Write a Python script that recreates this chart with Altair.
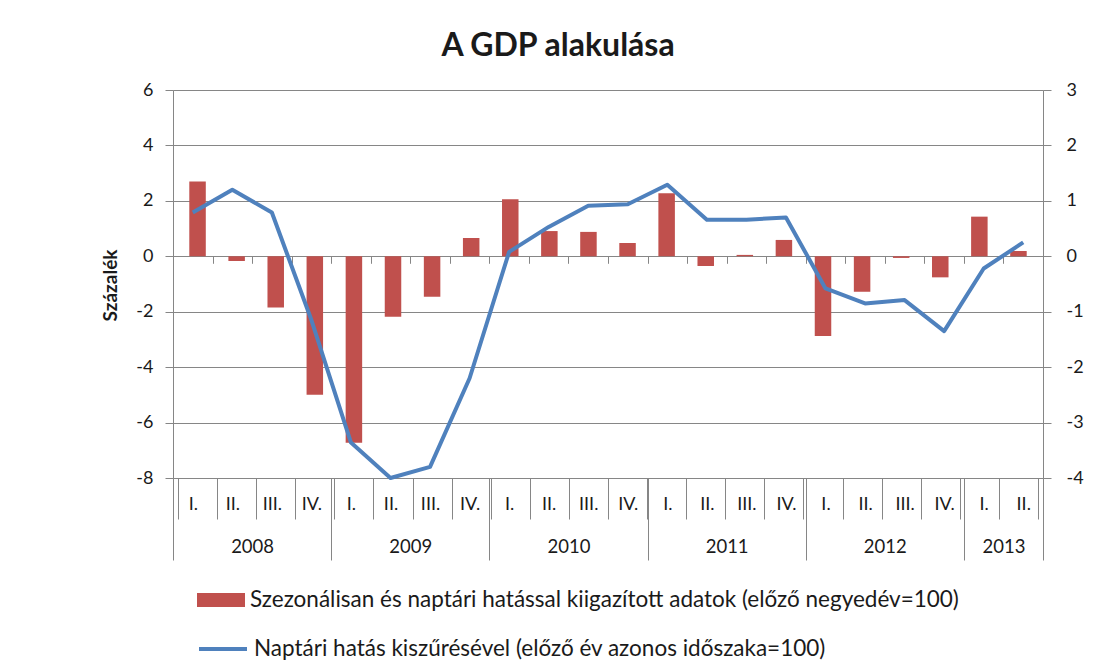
import json
import altair as alt
import pandas as pd

# ---------------- data ----------------
quarters = ["I.", "II.", "III.", "IV.",
            "I.", "II.", "III.", "IV.",
            "I.", "II.", "III.", "IV.",
            "I.", "II.", "III.", "IV.",
            "I.", "II.", "III.", "IV.",
            "I.", "II."]
years = [2008] * 4 + [2009] * 4 + [2010] * 4 + [2011] * 4 + [2012] * 4 + [2013] * 2

# left axis (previous quarter = 100)
bar_values = [2.70, -0.17, -1.85, -5.00, -6.73, -2.18, -1.46, 0.66,
              2.06, 0.91, 0.88, 0.48, 2.27, -0.35, 0.05, 0.59,
              -2.88, -1.28, -0.06, -0.76, 1.43, 0.19]
# right axis (same period of previous year = 100)
line_values = [0.79, 1.20, 0.79, -1.15, -3.36, -4.00, -3.80, -2.20,
               0.08, 0.53, 0.91, 0.94, 1.29, 0.66, 0.66, 0.70,
               -0.58, -0.85, -0.79, -1.35, -0.22, 0.25]

bar_name = "Szezonálisan és naptári hatással kiigazított adatok (előző negyedév=100)"
line_name = "Naptári hatás kiszűrésével (előző év azonos időszaka=100)"
chart_title = "A GDP alakulása"
y_title = "Százalék"

left_ticks = [-8, -6, -4, -2, 0, 2, 4, 6]
right_ticks = [-4, -3, -2, -1, 0, 1, 2, 3]

# ---------------- derived tables ----------------
n = len(quarters)
df = pd.DataFrame({
    "pos": [i + 0.5 for i in range(n)],
    "q": quarters,
    "year": years,
    "bar": bar_values,
    "line": line_values,
    "bs": bar_name,
    "ls": line_name,
})
year_list = sorted(set(years))
year_start = [years.index(y) for y in year_list]
year_bounds = year_start + [n]
year_centers = [years.index(y) + years.count(y) / 2 for y in year_list]
ydf = pd.DataFrame({"c": year_centers, "y": [str(y) for y in year_list]})

q_expr = json.dumps(quarters) + "[floor(datum.value)]"
y_expr = json.dumps({f"{c:g}": str(y) for c, y in zip(year_centers, year_list)}) + "[datum.value]"
num_expr = "toString(datum.value)"

W, H = 870, 388
FONT = "Lato"
GRAY = "#868686"
TXT = "#1a1a1a"
RED = "#C0504D"
BLUE = "#4F81BD"

ymin, ymax = left_ticks[0], left_ticks[-1]
zero_offset = -H * (0 - ymin) / (ymax - ymin)


def xs():
    return alt.Scale(domain=[0, n], nice=False, zero=False)


# bars with quarter separators at the bottom
bars = alt.Chart(df).mark_bar(size=16.5, color=RED).encode(
    x=alt.X("pos:Q", scale=xs(), axis=alt.Axis(
        orient="bottom", values=list(range(n + 1)), labels=False,
        tickSize=41, tickColor=GRAY, tickWidth=1, domainColor=GRAY,
        domainWidth=1, grid=False, title=None)),
    y=alt.Y("bar:Q", scale=alt.Scale(domain=[ymin, ymax], nice=False),
            axis=alt.Axis(orient="left", values=left_ticks, grid=True,
                          gridColor=GRAY, gridWidth=1, tickSize=8,
                          tickColor=GRAY, domainColor=GRAY, labelPadding=12,
                          labelExpr=num_expr,
                          labelFont=FONT, labelFontSize=18, labelColor=TXT,
                          title=y_title, titleFont=FONT, titleFontSize=19,
                          titleFontWeight="bold", titleColor=TXT,
                          titleX=-63, titleY=195, titleAngle=270,
                          titleBaseline="middle", titleAlign="center")),
    fill=alt.Fill("bs:N", scale=alt.Scale(domain=[bar_name], range=[RED]),
                  legend=alt.Legend(orient="none", legendX=24, legendY=486,
                                    title=None, padding=0,
                                    symbolType="M-1,-0.29H1V0.29H-1Z",
                                    symbolSize=2304, symbolStrokeWidth=0,
                                    labelFont=FONT, labelFontSize=22.5,
                                    labelColor=TXT, labelLimit=0,
                                    labelOffset=5)),
)

line = alt.Chart(df).mark_line(strokeWidth=4, strokeJoin="round", color=BLUE).encode(
    x=alt.X("pos:Q", scale=xs(), axis=None),
    y=alt.Y("line:Q", scale=alt.Scale(domain=[right_ticks[0], right_ticks[-1]], nice=False),
            axis=alt.Axis(orient="right", values=right_ticks, grid=False,
                          tickSize=8, tickColor=GRAY, domainColor=GRAY,
                          labelPadding=15, labelExpr=num_expr,
                          labelFont=FONT, labelFontSize=18,
                          labelColor=TXT, title=None)),
    stroke=alt.Stroke("ls:N", scale=alt.Scale(domain=[line_name], range=[BLUE]),
                      legend=alt.Legend(orient="none", legendX=24, legendY=533,
                                        title=None, padding=0,
                                        symbolType="stroke", symbolSize=2304,
                                        symbolStrokeWidth=4,
                                        labelFont=FONT, labelFontSize=22.5,
                                        labelColor=TXT, labelLimit=0,
                                        labelOffset=5)),
)

# small ticks hanging from the zero line
zero_ticks = alt.Chart(df).mark_point(opacity=0).encode(
    x=alt.X("pos:Q", scale=xs(), axis=alt.Axis(
        orient="bottom", offset=zero_offset, values=list(range(n + 1)),
        labels=False, domain=False, tickSize=7, tickColor=GRAY, title=None)))

# quarter labels
q_labels = alt.Chart(df).mark_point(opacity=0).encode(
    x=alt.X("pos:Q", scale=xs(), axis=alt.Axis(
        orient="bottom", values=df["pos"].tolist(), ticks=False, tickSize=0,
        domain=False, labelExpr=q_expr, labelPadding=26,
        labelBaseline="middle", labelFont=FONT, labelFontSize=18,
        labelColor=TXT, title=None)))

# year separators
y_seps = alt.Chart(df).mark_point(opacity=0).encode(
    x=alt.X("pos:Q", scale=xs(), axis=alt.Axis(
        orient="bottom", values=year_bounds, labels=False, domain=False,
        tickSize=82, tickColor=GRAY, title=None)))

# year labels
y_labels = alt.Chart(ydf).mark_point(opacity=0).encode(
    x=alt.X("c:Q", scale=xs(), axis=alt.Axis(
        orient="bottom", values=year_centers, ticks=False, tickSize=0,
        domain=False, labelExpr=y_expr, labelPadding=68,
        labelBaseline="middle", labelFont=FONT, labelFontSize=18.5,
        labelColor=TXT, title=None)))

chart = alt.layer(bars, line, zero_ticks, q_labels, y_seps, y_labels).resolve_scale(
    x="independent", y="independent"
).properties(
    width=W, height=H,
    title=alt.TitleParams(chart_title, font=FONT, fontSize=32, fontWeight="bold",
                          color=TXT, anchor="middle", frame="group", dx=-50,
                          baseline="alphabetic", offset=32, dy=39),
    autosize=alt.AutoSizeParams(type="none"),
    padding={"left": 165, "top": 82, "right": 42, "bottom": 184},
).configure_view(stroke=None).configure(background="white")

chart.save("out.html", embed_options={"renderer": "svg", "actions": False})
